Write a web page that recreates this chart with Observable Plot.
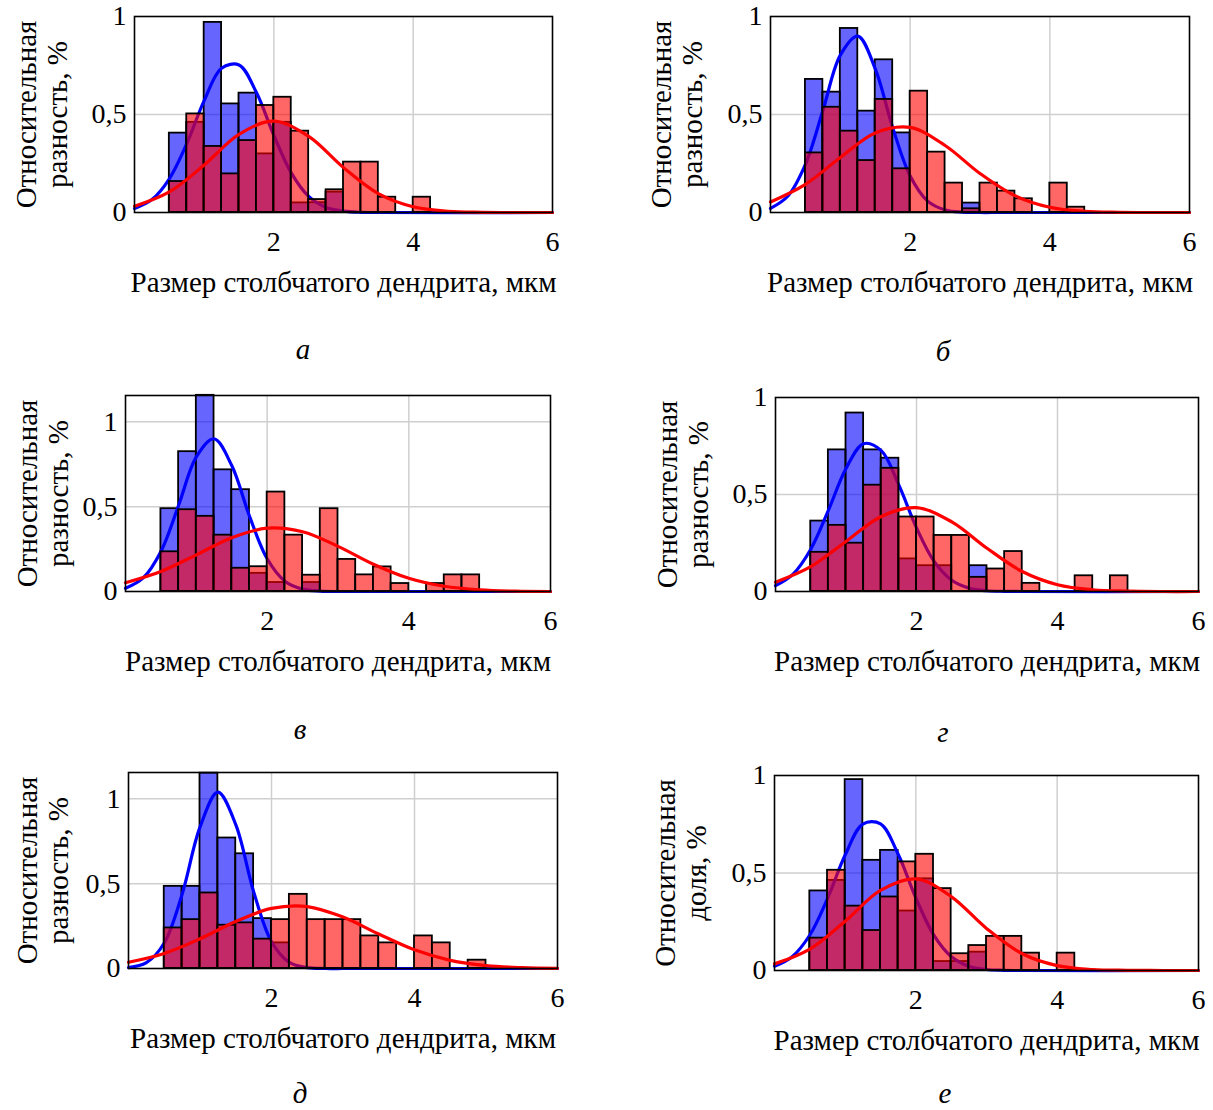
<!DOCTYPE html>
<html><head><meta charset="utf-8">
<script src="https://cdn.jsdelivr.net/npm/d3@7"></script>
<script src="https://cdn.jsdelivr.net/npm/@observablehq/plot@0.6"></script>
<style>
body{margin:0;background:#fff;}
#root{position:relative;width:1213px;height:1110px;overflow:hidden;background:#fff;font-family:"Liberation Serif","Times New Roman",serif;}
.panel{position:absolute;}
.cap{position:absolute;font-style:italic;font-size:29px;line-height:1.1;transform:translate(-50%,-50%);color:#000;}
</style></head><body><div id="root"></div>
<script>
// ---- shared axes / bins ----
const binEdges = [0.5,0.75,1,1.25,1.5,1.75,2,2.25,2.5,2.75,3,3.25,3.5,3.75,4,4.25,4.5,4.75,5];
const blueFitX = [0,0.25,0.5,0.75,1,1.25,1.5,1.75,2,2.25,2.5,2.75,3,3.25,3.5,6];
const redFitX = [0,0.5,1,1.5,2,2.5,3,3.5,4,4.5,5,5.5,6];
const xTicks = [2,4,6];
const yTicks = [0,0.5,1];
const xLabel = "Размер столбчатого дендрита, мкм";
const yLabelDiff = "Относительная\nразность, %";
const yLabelShare = "Относительная\nдоля, %";
const captions = ["а","б","в","г","д","е"];

// ---- panel а ----
const blueHistA = [0.405,0.46,0.97,0.554,0.609,0.299,0.46,0.049,0.05,0.104,0,0,0,0,0,0,0,0];
const redHistA  = [0.158,0.503,0.337,0.197,0.367,0.546,0.588,0.415,0.066,0.116,0.257,0.257,0.078,0,0.078,0,0,0];
const blueFitA  = [0.021,0.066,0.172,0.351,0.571,0.736,0.753,0.612,0.394,0.202,0.082,0.026,0.007,0.001,0,0];
const redFitA   = [0.032,0.105,0.242,0.398,0.466,0.388,0.229,0.096,0.029,0.006,0.001,0,0];
// ---- panel б ----
const blueHistB = [0.679,0.614,0.939,0.517,0.779,0.406,0,0,0,0.048,0,0,0,0,0,0,0,0];
const redHistB  = [0.304,0.537,0.415,0.265,0.577,0.223,0.619,0.308,0.150,0.019,0.150,0.109,0.070,0,0.150,0.027,0,0];
const blueFitB  = [0.021,0.084,0.245,0.520,0.803,0.900,0.733,0.433,0.186,0.058,0.013,0.002,0,0,0,0];
const redFitB   = [0.054,0.144,0.281,0.406,0.434,0.342,0.199,0.086,0.027,0.006,0.001,0,0];
// ---- panel в ----
const blueHistV = [0.488,0.824,1.156,0.717,0.600,0.107,0.053,0,0.053,0,0,0,0,0,0,0,0,0];
const redHistV  = [0.234,0.482,0.443,0.332,0.137,0.146,0.586,0.332,0.096,0.488,0.189,0.098,0.145,0.047,0,0.047,0.098,0.098];
const blueFitV  = [0.019,0.080,0.236,0.508,0.793,0.900,0.742,0.444,0.193,0.061,0.014,0.002,0,0,0,0];
const redFitV   = [0.052,0.118,0.216,0.317,0.373,0.352,0.266,0.161,0.078,0.031,0.010,0.002,0];
// ---- panel г ----
const blueHistG = [0.363,0.730,0.920,0.730,0.687,0.168,0.133,0.133,0,0.133,0,0,0,0,0,0,0,0];
const redHistG  = [0.202,0.341,0.249,0.548,0.635,0.384,0.384,0.289,0.289,0.073,0.116,0.206,0.042,0,0,0.081,0,0.081];
const blueFitG  = [0.030,0.090,0.218,0.418,0.634,0.762,0.726,0.548,0.328,0.155,0.058,0.017,0.004,0.001,0,0];
const redFitG   = [0.048,0.128,0.258,0.387,0.432,0.359,0.223,0.103,0.035,0.009,0.002,0,0];
// ---- panel д ----
const blueHistD = [0.484,0.484,1.151,0.769,0.676,0.294,0.151,0,0,0,0,0,0,0,0,0,0,0];
const redHistD  = [0.239,0.288,0.445,0.255,0.269,0.173,0.288,0.437,0.288,0.288,0.288,0.192,0.151,0,0.192,0.151,0,0.049];
const blueFitD  = [0.005,0.034,0.150,0.438,0.833,1.039,0.848,0.453,0.158,0.036,0.005,0,0,0,0,0];
const redFitD   = [0.037,0.089,0.175,0.277,0.354,0.365,0.303,0.203,0.110,0.048,0.017,0.005,0.001];
// ---- panel е ----
const blueHistE = [0.408,0.462,0.979,0.565,0.616,0.305,0.47,0.046,0.046,0.094,0,0,0,0,0,0,0,0];
const redHistE  = [0.166,0.514,0.330,0.205,0.377,0.557,0.596,0.420,0.086,0.128,0.175,0.175,0.089,0,0.089,0,0,0];
const blueFitE  = [0.022,0.071,0.182,0.369,0.592,0.751,0.752,0.596,0.372,0.184,0.072,0.022,0.005,0.001,0,0];
const redFitE   = [0.034,0.110,0.253,0.411,0.470,0.379,0.216,0.087,0.025,0.005,0.001,0,0];

const yMaxes = [1,1,1.155,1,1.155,1];

// ---- layout (page pixels) ----
const FONT = '"Liberation Serif","Times New Roman",serif';
const panels = [
  {blue:blueHistA, red:redHistA, bfit:blueFitA, rfit:redFitA, ylab:yLabelDiff,  sx:0,   sy:0,   w:606, h:310, L:134, T:16,  R:552,  B:212, ylDx:-93, cx:303, cy:350},
  {blue:blueHistB, red:redHistB, bfit:blueFitB, rfit:redFitB, ylab:yLabelDiff,  sx:606, sy:0,   w:607, h:310, L:770, T:16,  R:1189, B:212, ylDx:-94, cx:943, cy:352},
  {blue:blueHistV, red:redHistV, bfit:blueFitV, rfit:redFitV, ylab:yLabelDiff,  sx:0,   sy:370, w:606, h:320, L:125, T:395, R:550,  B:591, ylDx:-83, cx:300, cy:730},
  {blue:blueHistG, red:redHistG, bfit:blueFitG, rfit:redFitG, ylab:yLabelDiff,  sx:606, sy:370, w:607, h:320, L:775, T:397, R:1198, B:591, ylDx:-93, cx:943, cy:733},
  {blue:blueHistD, red:redHistD, bfit:blueFitD, rfit:redFitD, ylab:yLabelDiff,  sx:0,   sy:750, w:606, h:320, L:128, T:772, R:557,  B:968, ylDx:-86, cx:300, cy:1094},
  {blue:blueHistE, red:redHistE, bfit:blueFitE, rfit:redFitE, ylab:yLabelShare, sx:606, sy:750, w:607, h:320, L:774, T:775, R:1198, B:970, ylDx:-94, cx:945, cy:1094}
];

const root = document.getElementById("root");
const bars = (vals) => binEdges.slice(0,-1).map((x1,i)=>({x1, x2:binEdges[i+1], v:vals[i]})).filter(d=>d.v>0);
const fit = (xs, ys) => xs.map((x,i)=>({x, y:ys[i]}));

panels.forEach((p, k) => {
  const ymax = yMaxes[k];
  const svg = Plot.plot({
    width: p.w, height: p.h,
    marginLeft: p.L - p.sx, marginTop: p.T - p.sy,
    marginRight: p.sx + p.w - p.R, marginBottom: p.sy + p.h - p.B,
    style: {fontFamily: FONT, fontSize: "28px", color: "#000", background: "transparent", overflow: "visible"},
    x: {domain:[0,6], ticks: xTicks, tickSize:0, tickPadding:19, label:null, tickFormat: d => String(d)},
    y: {domain:[0,ymax], ticks: yTicks, tickSize:0, tickPadding:8, label:null, tickFormat: d => String(d).replace(".", ",")},
    marks: [
      Plot.ruleX([2,4], {stroke:"#cfcfcf", strokeWidth:1.5}),
      Plot.ruleY(yTicks.filter(t => t > 0 && t < ymax), {stroke:"#cfcfcf", strokeWidth:1.5}),
      Plot.rect(bars(p.blue), {x1:"x1", x2:"x2", y1:0, y2:"v", fill:"#0000ff", fillOpacity:0.6, stroke:"#000", strokeWidth:1.8}),
      Plot.line(fit(blueFitX, p.bfit), {x:"x", y:"y", stroke:"#0000ff", strokeWidth:3.2, curve:"catmull-rom"}),
      Plot.rect(bars(p.red), {x1:"x1", x2:"x2", y1:0, y2:"v", fill:"#ff0000", fillOpacity:0.6, stroke:"#000", strokeWidth:1.8}),
      Plot.line(fit(redFitX, p.rfit), {x:"x", y:"y", stroke:"#ff0000", strokeWidth:3.2, curve:"catmull-rom"}),
      Plot.frame({stroke:"#000", strokeWidth:1.6}),
      Plot.text([xLabel], {text: d => d, frameAnchor:"bottom", textAnchor:"middle", lineAnchor:"middle", dy:70, fontSize:29, fill:"#000"}),
      Plot.text([p.ylab], {text: d => d, frameAnchor:"left", textAnchor:"middle", lineAnchor:"middle", rotate:-90, dx:p.ylDx, fontSize:29, lineHeight:1.06, fill:"#000"})
    ]
  });
  const div = document.createElement("div");
  div.className = "panel";
  div.style.left = p.sx + "px";
  div.style.top = p.sy + "px";
  div.style.width = p.w + "px";
  div.style.height = p.h + "px";
  div.appendChild(svg);
  root.appendChild(div);

  const cap = document.createElement("div");
  cap.className = "cap";
  cap.style.left = p.cx + "px";
  cap.style.top = p.cy + "px";
  cap.textContent = captions[k];
  root.appendChild(cap);
});
</script></body></html>
